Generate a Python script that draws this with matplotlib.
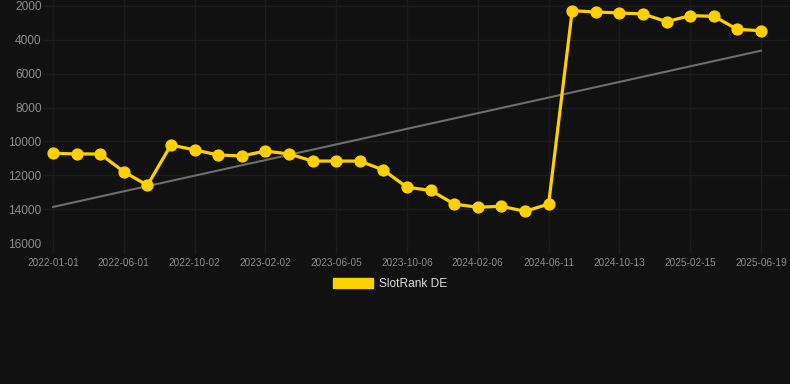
import matplotlib
matplotlib.use("Agg")
import matplotlib.pyplot as plt
from matplotlib.patches import Patch

dates = ["2022-01-01", "2022-02-20", "2022-04-11", "2022-06-01", "2022-07-12", "2022-08-22",
         "2022-10-02", "2022-11-12", "2022-12-23", "2023-02-02", "2023-03-15", "2023-04-25",
         "2023-06-05", "2023-07-16", "2023-08-26", "2023-10-06", "2023-11-16", "2023-12-27",
         "2024-02-06", "2024-03-18", "2024-04-29", "2024-06-11", "2024-07-22", "2024-09-01",
         "2024-10-13", "2024-11-23", "2025-01-04", "2025-02-15", "2025-03-28", "2025-05-08",
         "2025-06-19"]
rank = [10700, 10740, 10740, 11790, 12590, 10210, 10500, 10800, 10860, 10565, 10740, 11160,
        11160, 11160, 11690, 12710, 12890, 13700, 13890, 13830, 14130, 13700, 2275, 2355,
        2410, 2470, 2925, 2570, 2610, 3380, 3460]
trend_start, trend_end = 13870, 4640
y_ticks = [2000, 4000, 6000, 8000, 10000, 12000, 14000, 16000]
series_name = "SlotRank DE"

BG = "#111111"
GOLD = "#FFD000"
GRID = "#1d1d1d"

plt.rcParams['font.family'] = ['Liberation Sans', 'DejaVu Sans']

fig = plt.figure(figsize=(7.9, 3.84), dpi=100, facecolor=BG)
W, H = 790, 384
ax = fig.add_axes([43 / W, 1 - 243 / H, (790 - 43) / W, 243 / H])
ax.set_facecolor(BG)

x = list(range(len(dates)))
unit = (761 - 53) / 30
ax.set_xlim(-(53 - 43) / unit, 30 + (790 - 761) / unit)
ax.set_ylim(16000, 2000 - 6 * (14000 / 237))

ax.plot([x[0], x[-1]], [trend_start, trend_end], color="#6e6e6e", lw=1.5, zorder=2)
ax.plot(x, rank, color=GOLD, lw=2.3, marker="o", markersize=7.8, zorder=3, clip_on=False)

ax.set_yticks(y_ticks)
ax.set_yticklabels([str(v) for v in y_ticks])
ax.set_xticks(x[::3])
ax.set_xticklabels(dates[::3])

ax.grid(True, color=GRID, lw=1)
ax.set_axisbelow(True)
for s in ax.spines.values():
    s.set_visible(False)
ax.tick_params(axis="y", length=0, pad=1, labelsize=8.6, labelcolor="#8c8c8c")
ax.tick_params(axis="x", length=8, width=1, color=GRID, pad=3, labelsize=7.2, labelcolor="#8c8c8c")

fig.legend(handles=[Patch(facecolor=GOLD, edgecolor=GOLD, label=series_name)],
           loc="center", bbox_to_anchor=(390 / W, 1 - 284 / H), frameon=False,
           fontsize=8.6, labelcolor="#dddddd", handlelength=3.4, handleheight=0.9,
           handletextpad=0.5)

fig.savefig("out.png", dpi=100, facecolor=BG)
